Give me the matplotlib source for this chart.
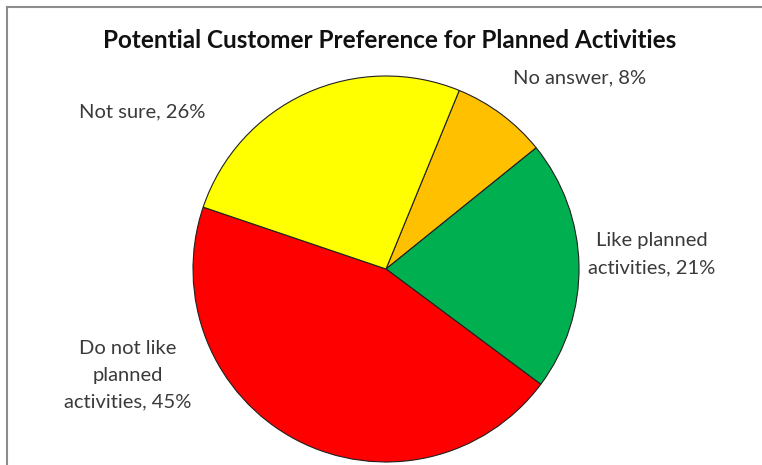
import matplotlib
matplotlib.use("Agg")
from matplotlib import pyplot as plt
from matplotlib.lines import Line2D

# data
categories = ["No answer", "Like planned\nactivities", "Do not like\nplanned\nactivities", "Not sure"]
shares = [8, 21, 45, 26]
colors = ["#FFC000", "#00B050", "#FF0000", "#FFFF00"]

# label centres in pixels (x from left, y from top)
label_pos = [(580, 78), (652, 254), (128, 375), (142, 112)]

W, H = 762, 465
plt.rcParams['font.family'] = ['Lato', 'DejaVu Sans']

fig = plt.figure(figsize=(W / 100, H / 100), dpi=100)
fig.patch.set_facecolor("white")

# pie axes: centre (386, 269), radius 193 px
cx, cy, r = 386, 269, 193
ax = fig.add_axes([(cx - r) / W, (H - cy - r) / H, 2 * r / W, 2 * r / H])
ax.pie(shares, colors=colors, startangle=67.7, counterclock=False,
       wedgeprops=dict(edgecolor="#202020", linewidth=0.8))
ax.set_xlim(-1, 1)
ax.set_ylim(-1, 1)
ax.set_aspect("equal")
ax.axis("off")

for cat, val, (px, py) in zip(categories, shares, label_pos):
    fig.text(px / W, 1 - py / H, f"{cat}, {val}%", ha="center", va="center",
             fontsize=14.5, color="#3a3a3a", linespacing=1.7)

fig.text(390 / W, 1 - 40 / H, "Potential Customer Preference for Planned Activities",
         ha="center", va="center", fontsize=17.5, fontweight="bold", color="#111111")

# chart frame (top and left edges visible)
fig.add_artist(Line2D([7 / W, 7 / W], [0, 1 - 7 / H], transform=fig.transFigure,
                      color="#8c8c8c", linewidth=1.5))
fig.add_artist(Line2D([7 / W, 1], [1 - 7 / H, 1 - 7 / H], transform=fig.transFigure,
                      color="#8c8c8c", linewidth=1.5))

fig.savefig("out.png", dpi=100)
